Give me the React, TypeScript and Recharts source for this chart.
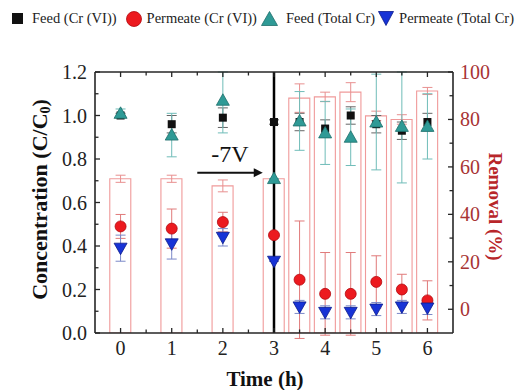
import React from 'react';
import {
  ComposedChart,
  Bar,
  Scatter,
  ErrorBar,
  XAxis,
  YAxis,
  ReferenceLine,
  Legend,
} from 'recharts';

// ---------------- data ----------------
const times = [0, 1, 2, 3, 3.5, 4, 4.5, 5, 5.5, 6];

const feedCr6 = [1.0, 0.96, 0.99, 0.97, 0.97, 0.94, 1.0, 0.96, 0.93, 0.97];
const feedCr6Err = [0.01, 0.04, 0.045, 0.01, 0.04, 0.04, 0.04, 0.04, 0.04, 0.04];

const permCr6 = [0.49, 0.48, 0.51, 0.45, 0.245, 0.18, 0.18, 0.235, 0.2, 0.15];
const permCr6Err = [0.055, 0.09, 0.045, 0.0, 0.27, 0.19, 0.19, 0.12, 0.07, 0.09];

const feedTot = [1.01, 0.91, 1.07, 0.71, 0.975, 0.92, 0.9, 0.97, 0.95, 0.95];
const feedTotErr = [0.02, 0.1, 0.15, 0.0, 0.135, 0.145, 0.13, 0.22, 0.26, 0.15];

const permTot = [0.39, 0.41, 0.44, 0.33, 0.12, 0.095, 0.095, 0.11, 0.12, 0.115];
const permTotErr = [0.06, 0.07, 0.04, 0.0, 0.03, 0.03, 0.03, 0.03, 0.03, 0.03];

const removal = [55, 55, 52, 55, 89, 89.5, 91.5, 81.5, 80, 92];
const removalErr = [1.5, 1.5, 2.5, 0, 6, 2, 4, 2, 2, 1.5];

const xTicks = [0, 0.5, 1, 1.5, 2, 2.5, 3, 3.5, 4, 4.5, 5, 5.5, 6];
const xLabelTicks = [0, 1, 2, 3, 4, 5, 6];
const leftTicks = [0, 0.1, 0.2, 0.3, 0.4, 0.5, 0.6, 0.7, 0.8, 0.9, 1.0, 1.1, 1.2];
const leftLabelTicks = [0, 0.2, 0.4, 0.6, 0.8, 1.0, 1.2];
const rightTicks = [0, 10, 20, 30, 40, 50, 60, 70, 80, 90, 100];
const rightLabelTicks = [0, 20, 40, 60, 80, 100];

const X_DOMAIN: [number, number] = [-0.5, 6.5];
const LEFT_DOMAIN: [number, number] = [0, 1.2];
const RIGHT_DOMAIN: [number, number] = [-10, 100];

const switchTime = 3;
const voltageLabel = '-7V';
const arrowFrom = { x: 1.5, y: 0.737 };
const arrowTo = { x: 2.78, y: 0.737 };

const seriesNames = ['Feed (Cr (VI))', 'Permeate (Cr (VI))', 'Feed (Total Cr)', 'Permeate (Total Cr)'];

// ---------------- derived tables ----------------
// error bars are cut at the top edge of the plot, as in the original figure
const mk = (vals: number[], errs: number[], top: number) =>
  times.map((t, i) => ({
    t,
    v: vals[i],
    err: [errs[i], Math.max(0, Math.min(errs[i], top - vals[i]))],
  }));
const feedCr6Data = mk(feedCr6, feedCr6Err, LEFT_DOMAIN[1]);
const permCr6Data = mk(permCr6, permCr6Err, LEFT_DOMAIN[1]);
const feedTotData = mk(feedTot, feedTotErr, LEFT_DOMAIN[1]);
const permTotData = mk(permTot, permTotErr, LEFT_DOMAIN[1]);
const removalData = mk(removal, removalErr, RIGHT_DOMAIN[1]);
const barData = times.map((t, i) => ({ t, removal: removal[i] }));

// ---------------- styles ----------------
const FONT = '"Liberation Serif", "Times New Roman", serif';
const AXIS = '#262626';
const RED_TEXT = '#a83434';
const RED_TITLE = '#b8262a';
const SQUARE = '#111111';
const CIRCLE = '#ec1a1f';
const TEAL = '#2f9a96';
const BLUE = '#1733d6';
const BAR = '#f09a9a';

// ---------------- ticks ----------------
function BottomTick(p: any) {
  const v = p.payload.value;
  const lab = xLabelTicks.includes(v);
  return (
    <g>
      <line x1={p.x} x2={p.x} y1={p.y} y2={p.y - (lab ? 5 : 3.5)} stroke={AXIS} strokeWidth={1.3} />
      {lab && (
        <text x={p.x} y={p.y + 22} textAnchor="middle" fontSize={20} fontFamily={FONT} fill="#222">
          {v}
        </text>
      )}
    </g>
  );
}

function TopTick(p: any) {
  const v = p.payload.value;
  const lab = xLabelTicks.includes(v);
  return <line x1={p.x} x2={p.x} y1={p.y} y2={p.y + (lab ? 5 : 3.5)} stroke={AXIS} strokeWidth={1.3} />;
}

function LeftTick(p: any) {
  const v = p.payload.value;
  const lab = leftLabelTicks.includes(v);
  return (
    <g>
      <line x1={p.x} x2={p.x + (lab ? 5 : 3.5)} y1={p.y} y2={p.y} stroke={AXIS} strokeWidth={1.3} />
      {lab && (
        <text x={p.x - 8} y={p.y + 7} textAnchor="end" fontSize={20} fontFamily={FONT} fill="#222">
          {Number(v).toFixed(1)}
        </text>
      )}
    </g>
  );
}

function RightTick(p: any) {
  const v = p.payload.value;
  const lab = rightLabelTicks.includes(v);
  return (
    <g>
      <line x1={p.x} x2={p.x - (lab ? 5 : 3.5)} y1={p.y} y2={p.y} stroke={AXIS} strokeWidth={1.3} />
      {lab && (
        <text x={p.x + 7} y={p.y + 7} textAnchor="start" fontSize={20} fontFamily={FONT} fill={RED_TEXT}>
          {v}
        </text>
      )}
    </g>
  );
}

// ---------------- titles ----------------
function LeftTitle(p: any) {
  const vb = p.viewBox;
  const cx = vb.x + 4;
  const cy = vb.y + vb.height / 2 - 3;
  return (
    <text
      x={cx}
      y={cy}
      transform={`rotate(-90, ${cx}, ${cy})`}
      textAnchor="middle"
      dominantBaseline="central"
      fontSize={22}
      fontWeight="bold"
      fontFamily={FONT}
      fill="#111"
    >
      <tspan>Concentration (C/C</tspan>
      <tspan fontSize={14} dy={6}>0</tspan>
      <tspan dy={-6}>)</tspan>
    </text>
  );
}

function RightTitle(p: any) {
  const vb = p.viewBox;
  const cx = vb.x + 42;
  const cy = vb.y + vb.height / 2 + 4;
  return (
    <text
      x={cx}
      y={cy}
      transform={`rotate(90, ${cx}, ${cy})`}
      textAnchor="middle"
      dominantBaseline="central"
      fontSize={19}
      fontWeight="bold"
      fontFamily={FONT}
      fill={RED_TITLE}
    >
      Removal (%)
    </text>
  );
}

function BottomTitle(p: any) {
  const vb = p.viewBox;
  const cx = vb.x + vb.width / 2 - 9;
  return (
    <text x={cx} y={vb.y + 53} textAnchor="middle" fontSize={21} fontWeight="bold" fontFamily={FONT} fill="#111">
      Time (h)
    </text>
  );
}

// ---------------- markers ----------------
const SquareShape = (p: any) => <rect x={p.cx - 4} y={p.cy - 4} width={8} height={8} fill={SQUARE} />;
const CircleShape = (p: any) => <circle cx={p.cx} cy={p.cy} r={5.5} fill={CIRCLE} stroke="#b3080c" strokeWidth={0.8} />;
const TriShape = (p: any) => (
  <polygon
    points={`${p.cx},${p.cy - 6.5} ${p.cx - 6.5},${p.cy + 5} ${p.cx + 6.5},${p.cy + 5}`}
    fill={TEAL}
    stroke="#1e6e6b"
    strokeWidth={0.8}
  />
);
const InvTriShape = (p: any) => (
  <polygon
    points={`${p.cx - 6.5},${p.cy - 5} ${p.cx + 6.5},${p.cy - 5} ${p.cx},${p.cy + 6.5}`}
    fill={BLUE}
    stroke="#0b1a8a"
    strokeWidth={0.8}
  />
);
const NoShape = () => <g />;

const ArrowShape = (p: any) => {
  const { x1, y1, x2, y2 } = p;
  return (
    <g>
      <line x1={x1} y1={y1} x2={x2 - 7} y2={y2} stroke="#111" strokeWidth={2} />
      <polygon points={`${x2},${y2} ${x2 - 9},${y2 - 4.5} ${x2 - 9},${y2 + 4.5}`} fill="#111" />
    </g>
  );
};

// ---------------- legend ----------------
function LegendContent() {
  const icons = [
    <svg width={11} height={11} key="a"><rect x={0} y={0} width={11} height={11} fill={SQUARE} /></svg>,
    <svg width={16} height={16} key="b"><circle cx={8} cy={8} r={7.5} fill={CIRCLE} stroke="#b3080c" strokeWidth={0.8} /></svg>,
    <svg width={17} height={15} key="c"><polygon points="8.5,0.5 0.5,14.5 16.5,14.5" fill={TEAL} stroke="#1e6e6b" strokeWidth={0.8} /></svg>,
    <svg width={16} height={15} key="d"><polygon points="0.5,0.5 15.5,0.5 8,14.5" fill={BLUE} stroke="#0b1a8a" strokeWidth={0.8} /></svg>,
  ];
  const iconGap = [9, 5, 8, 5];
  const itemGap = [9, 4, 3, 0];
  return (
    <div
      style={{
        display: 'flex',
        alignItems: 'center',
        fontFamily: FONT,
        fontSize: 14.5,
        color: '#222',
        whiteSpace: 'nowrap',
        paddingLeft: 12,
      }}
    >
      {seriesNames.map((n, i) => (
        <div key={n} style={{ display: 'flex', alignItems: 'center', marginRight: itemGap[i] }}>
          <span style={{ display: 'inline-flex', marginRight: iconGap[i] }}>{icons[i]}</span>
          <span>{n}</span>
        </div>
      ))}
    </div>
  );
}

export default function App() {
  return (
    <div style={{ position: 'absolute', left: 0, top: 0, background: '#fff' }}>
      <ComposedChart
        width={518}
        height={390}
        data={barData}
        margin={{ top: 62, right: 15, bottom: 7, left: 35 }}
      >
        <Legend
          layout="horizontal"
          verticalAlign="middle"
          align="center"
          wrapperStyle={{ top: 10, left: 0, width: 518, height: 22 }}
          content={() => <LegendContent />}
        />
        <XAxis
          xAxisId="b"
          dataKey="t"
          type="number"
          domain={X_DOMAIN}
          ticks={xTicks}
          interval={0}
          allowDataOverflow
          height={50}
          tickSize={0}
          tickMargin={0}
          tickLine={false}
          axisLine={{ stroke: AXIS, strokeWidth: 1.6 }}
          tick={BottomTick}
          label={{ content: BottomTitle }}
        />
        <XAxis
          xAxisId="top"
          orientation="top"
          dataKey="t"
          type="number"
          domain={X_DOMAIN}
          ticks={xTicks}
          interval={0}
          allowDataOverflow
          height={10}
          tickSize={0}
          tickMargin={0}
          tickLine={false}
          axisLine={{ stroke: AXIS, strokeWidth: 1.6 }}
          tick={TopTick}
        />
        <YAxis
          yAxisId="left"
          type="number"
          domain={LEFT_DOMAIN}
          ticks={leftTicks}
          interval={0}
          allowDataOverflow
          width={60}
          tickSize={0}
          tickMargin={0}
          tickLine={false}
          axisLine={{ stroke: AXIS, strokeWidth: 1.6 }}
          tick={LeftTick}
          label={{ content: LeftTitle }}
        />
        <YAxis
          yAxisId="right"
          orientation="right"
          type="number"
          domain={RIGHT_DOMAIN}
          ticks={rightTicks}
          interval={0}
          allowDataOverflow
          width={50}
          tickSize={0}
          tickMargin={0}
          tickLine={false}
          axisLine={{ stroke: AXIS, strokeWidth: 1.6 }}
          tick={RightTick}
          label={{ content: RightTitle }}
        />

        <Bar
          xAxisId="b"
          yAxisId="right"
          dataKey={(d: any) => [RIGHT_DOMAIN[0], d.removal]}
          barSize={21}
          fill="none"
          stroke={BAR}
          strokeWidth={1.1}
          isAnimationActive={false}
          legendType="none"
        />
        <Scatter
          xAxisId="b"
          yAxisId="right"
          data={removalData}
          dataKey="v"
          shape={NoShape}
          isAnimationActive={false}
          legendType="none"
        >
          <ErrorBar dataKey="err" direction="y" width={5} stroke="#e89090" strokeWidth={1} />
        </Scatter>

        <ReferenceLine xAxisId="b" yAxisId="left" x={switchTime} stroke="#000" strokeWidth={2.5} />
        <ReferenceLine
          xAxisId="b"
          yAxisId="left"
          segment={[arrowFrom, arrowTo]}
          shape={ArrowShape}
          label={{ value: voltageLabel, position: 'top', offset: 11, fontSize: 24, fontFamily: FONT, fill: '#111' }}
        />

        <Scatter xAxisId="b" yAxisId="left" name={seriesNames[0]} data={feedCr6Data} dataKey="v" shape={SquareShape} isAnimationActive={false}>
          <ErrorBar dataKey="err" direction="y" width={5} stroke="#666" strokeWidth={1} />
        </Scatter>
        <Scatter xAxisId="b" yAxisId="left" name={seriesNames[1]} data={permCr6Data} dataKey="v" shape={CircleShape} isAnimationActive={false}>
          <ErrorBar dataKey="err" direction="y" width={5} stroke="#e07a7a" strokeWidth={1} />
        </Scatter>
        <Scatter xAxisId="b" yAxisId="left" name={seriesNames[2]} data={feedTotData} dataKey="v" shape={TriShape} isAnimationActive={false}>
          <ErrorBar dataKey="err" direction="y" width={5} stroke="#6fbcb8" strokeWidth={1} />
        </Scatter>
        <Scatter xAxisId="b" yAxisId="left" name={seriesNames[3]} data={permTotData} dataKey="v" shape={InvTriShape} isAnimationActive={false}>
          <ErrorBar dataKey="err" direction="y" width={5} stroke="#7b88c8" strokeWidth={1} />
        </Scatter>
      </ComposedChart>
    </div>
  );
}
